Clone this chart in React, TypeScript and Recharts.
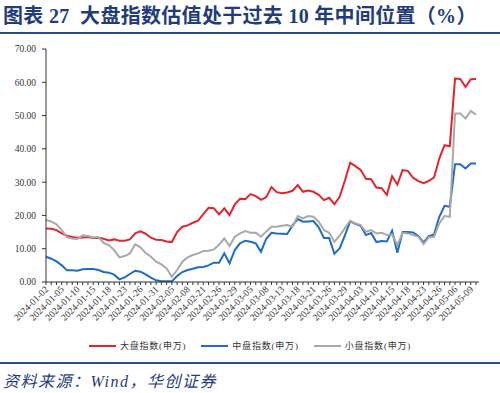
import { LineChart, Line, XAxis, YAxis } from "recharts";

// trading days shown on the category axis
const dates = [
  "2024-01-02", "2024-01-03", "2024-01-04", "2024-01-05", "2024-01-08", "2024-01-09", "2024-01-10",
  "2024-01-11", "2024-01-12", "2024-01-15", "2024-01-16", "2024-01-17", "2024-01-18", "2024-01-19",
  "2024-01-22", "2024-01-23", "2024-01-24", "2024-01-25", "2024-01-26", "2024-01-29", "2024-01-30",
  "2024-01-31", "2024-02-01", "2024-02-02", "2024-02-05", "2024-02-06", "2024-02-07", "2024-02-08",
  "2024-02-19", "2024-02-20", "2024-02-21", "2024-02-22", "2024-02-23", "2024-02-26", "2024-02-27",
  "2024-02-28", "2024-02-29", "2024-03-01", "2024-03-04", "2024-03-05", "2024-03-06", "2024-03-07",
  "2024-03-08", "2024-03-11", "2024-03-12", "2024-03-13", "2024-03-14", "2024-03-15", "2024-03-18",
  "2024-03-19", "2024-03-20", "2024-03-21", "2024-03-22", "2024-03-25", "2024-03-26", "2024-03-27",
  "2024-03-28", "2024-03-29", "2024-04-01", "2024-04-02", "2024-04-03", "2024-04-08", "2024-04-09",
  "2024-04-10", "2024-04-11", "2024-04-12", "2024-04-15", "2024-04-16", "2024-04-17", "2024-04-18",
  "2024-04-19", "2024-04-22", "2024-04-23", "2024-04-24", "2024-04-25", "2024-04-26", "2024-04-29",
  "2024-04-30", "2024-05-06", "2024-05-07", "2024-05-08", "2024-05-09", "2024-05-10",
];

// 大盘指数(申万)
const largeCap = [
  16.1, 16.0, 15.6, 14.6, 13.9, 13.5, 13.3, 13.4, 13.5, 13.2, 13.3, 13.0, 12.5, 12.8, 12.4, 12.4,
  12.8, 14.6, 15.2, 14.5, 13.3, 12.7, 12.6, 12.2, 12.0, 15.0, 16.6, 17.0, 17.8, 18.4, 20.4, 22.3,
  22.2, 20.3, 22.1, 20.1, 23.3, 25.0, 24.9, 26.4, 25.8, 24.7, 25.5, 28.5, 27.0, 26.7, 26.9, 27.4,
  29.1, 27.1, 27.5, 27.1, 26.2, 24.6, 25.3, 23.4, 25.6, 30.5, 35.8, 34.8, 33.7, 31.0, 30.9, 28.4,
  28.2, 26.2, 31.8, 29.3, 33.6, 33.4, 31.3, 30.3, 29.7, 30.4, 31.4, 37.1, 41.1, 40.8, 61.1, 61.0,
  58.6, 60.9, 61.0,
];

// 中盘指数(申万)
const midCap = [
  7.6, 7.0, 6.2, 5.0, 3.5, 3.5, 3.4, 3.8, 3.9, 3.9, 3.6, 3.0, 2.8, 2.2, 0.8, 1.4,
  2.4, 3.4, 3.1, 2.3, 1.3, 0.5, 0.2, 0.2, 0.2, 1.8, 3.0, 3.6, 4.0, 4.4, 4.5, 5.0,
  5.8, 5.8, 8.6, 5.6, 9.6, 11.6, 12.4, 12.1, 11.6, 9.1, 13.0, 14.8, 14.6, 14.5, 14.4, 17.0,
  18.9, 18.1, 18.2, 18.3, 16.4, 13.2, 13.2, 8.5, 10.1, 14.0, 18.2, 17.5, 16.9, 14.1, 14.7, 12.0,
  12.3, 12.2, 15.4, 8.8, 15.0, 15.0, 14.9, 13.8, 11.9, 13.8, 14.3, 19.6, 22.9, 22.6, 35.4, 35.4,
  34.1, 35.6, 35.6,
];

// 小盘指数(申万)
const smallCap = [
  18.6, 18.2, 17.3, 15.6, 13.5, 13.1, 12.9, 14.0, 13.8, 13.4, 13.5, 11.7, 11.1, 9.6, 7.4, 7.8,
  8.6, 11.3, 10.4, 8.7, 7.6, 6.1, 5.3, 4.1, 1.6, 3.6, 6.1, 7.4, 8.1, 8.6, 9.3, 9.4,
  9.8, 11.2, 13.1, 10.8, 13.6, 14.6, 15.3, 14.8, 14.8, 13.6, 15.2, 16.6, 16.6, 16.9, 17.1, 16.6,
  19.8, 19.1, 19.8, 19.6, 18.1, 15.6, 14.8, 12.1, 13.9, 16.2, 18.4, 17.6, 17.1, 15.1, 15.6, 14.6,
  14.8, 14.1, 14.3, 11.1, 14.8, 14.6, 14.1, 13.6, 11.4, 13.4, 13.6, 17.6, 19.8, 19.6, 50.6, 50.6,
  49.1, 51.4, 50.3,
];

const yTicks = [0, 10, 20, 30, 40, 50, 60, 70];

const series = [
  { key: "large", name: "大盘指数(申万)", color: "#e3242b" },
  { key: "mid", name: "中盘指数(申万)", color: "#1f6cc4" },
  { key: "small", name: "小盘指数(申万)", color: "#a9a9a9" },
];

const data = dates.map((d, i) => ({
  date: d,
  large: largeCap[i],
  mid: midCap[i],
  small: smallCap[i],
}));

const SERIF = "'Liberation Serif', 'Times New Roman', 'Noto Sans CJK SC', serif";
const CJK = "'Liberation Serif', 'Noto Sans CJK SC', sans-serif";
const NAVY = "#1f3c7c";

// only every third date gets a label, but every point keeps its tick mark
function DateTick(props: any) {
  const { x, y, payload } = props;
  const i = dates.indexOf(payload.value);
  if (i % 3 !== 0) return <g />;
  const tx = x + 3;
  const ty = y + 3;
  return (
    <text
      x={tx}
      y={ty}
      transform={`rotate(-45, ${tx}, ${ty})`}
      textAnchor="end"
      fontSize={9.5}
      fontFamily={SERIF}
      fill="#333"
    >
      {payload.value}
    </text>
  );
}

export default function App() {
  return (
    <div
      style={{
        position: "absolute",
        left: 0,
        top: 0,
        width: 500,
        height: 393,
        background: "#fff",
        overflow: "hidden",
      }}
    >
      <div
        style={{
          position: "absolute",
          left: 3,
          top: 4,
          fontFamily: CJK,
          fontWeight: 700,
          fontSize: 20,
          letterSpacing: 0.3,
          color: NAVY,
          whiteSpace: "nowrap",
          lineHeight: "24px",
        }}
      >
        图表 27&nbsp;&nbsp;大盘指数估值处于过去 10 年中间位置（%）
      </div>
      <div style={{ position: "absolute", left: 0, top: 32, width: 500, height: 2, background: "#2b4b8c" }} />

      <div style={{ position: "absolute", left: 0, top: 0 }}>
        <LineChart width={500} height={330} data={data} margin={{ top: 49, right: 21, bottom: 0, left: 0 }}>
          <XAxis
            dataKey="date"
            interval={0}
            tick={<DateTick />}
            tickSize={3}
            height={48}
            padding={{ left: 0, right: 3 }}
            stroke="#333"
            tickLine={{ stroke: "#333" }}
          />
          <YAxis
            domain={[0, 70]}
            ticks={yTicks}
            width={46}
            tickSize={4}
            tickMargin={6}
            stroke="#333"
            tickFormatter={(v: number) => v.toFixed(2)}
            tick={{ fontSize: 9.5, fontFamily: SERIF, fill: "#333" }}
          />
          {series.map((s) => (
            <Line
              key={s.key}
              type="linear"
              dataKey={s.key}
              name={s.name}
              stroke={s.color}
              strokeWidth={2}
              dot={false}
              isAnimationActive={false}
            />
          ))}
        </LineChart>
      </div>

      <div
        style={{
          position: "absolute",
          left: 0,
          top: 339,
          width: 500,
          display: "flex",
          justifyContent: "center",
          gap: 15,
          fontFamily: CJK,
          fontSize: 9,
          color: "#333",
          letterSpacing: 0.8,
        }}
      >
        {series.map((s) => (
          <div key={s.key} style={{ display: "flex", alignItems: "center", gap: 4 }}>
            <div style={{ width: 27, height: 2, background: s.color }} />
            <span>{s.name}</span>
          </div>
        ))}
      </div>

      <div style={{ position: "absolute", left: 0, top: 362, width: 500, height: 2, background: "#2b4b8c" }} />
      <div
        style={{
          position: "absolute",
          left: 3,
          top: 371,
          fontFamily: CJK,
          fontStyle: "italic",
          fontSize: 16,
          letterSpacing: 1.5,
          color: NAVY,
          whiteSpace: "nowrap",
          lineHeight: "22px",
        }}
      >
        资料来源：Wind，华创证券
      </div>
    </div>
  );
}
